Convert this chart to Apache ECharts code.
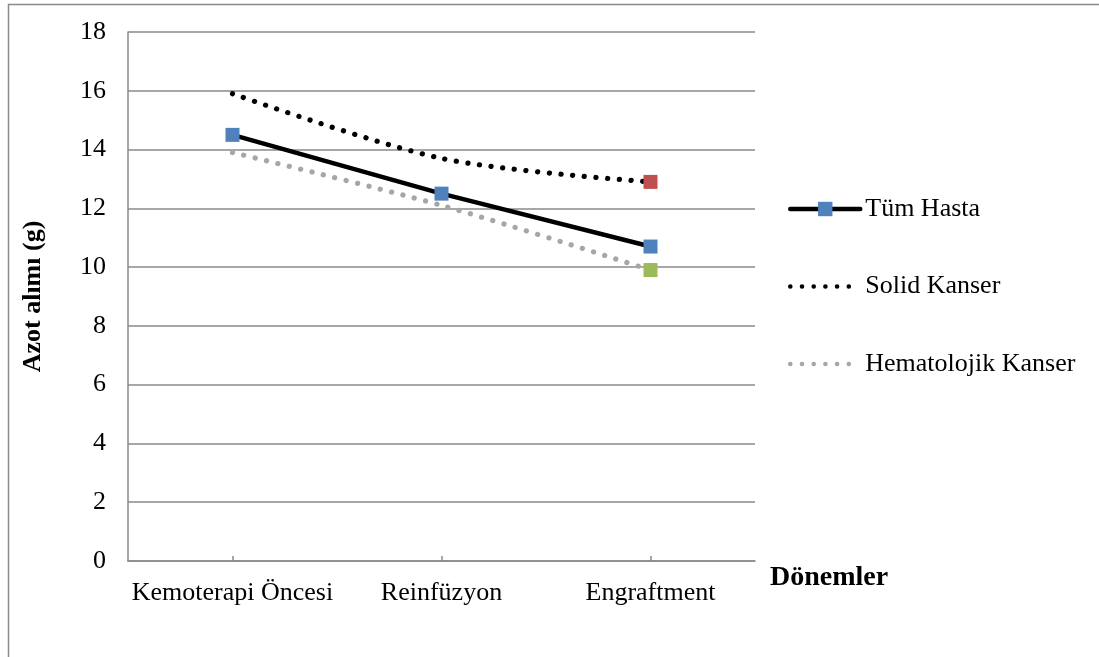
<!DOCTYPE html>
<html>
<head>
<meta charset="utf-8">
<script src="https://cdn.jsdelivr.net/npm/echarts@6/dist/echarts.min.js"></script>
<style>
  html, body { margin: 0; padding: 0; background: #fff; }
  #chart { width: 1099px; height: 657px; }
</style>
</head>
<body>
<div id="chart"></div>
<script>
// Periods on the x axis
const periods = ['Kemoterapi Öncesi', 'Reinfüzyon', 'Engraftment'];
// Nitrogen intake (g) per group
const tumHasta = [14.5, 12.5, 10.7];
const solidKanser = [15.9, 13.7, 12.9];
const hematolojikKanser = [13.9, 12.1, 9.9];
// Value axis range
const yMin = 0, yMax = 18, yStep = 2;

const serif = '"Liberation Serif", "Times New Roman", serif';
const gridGray = '#8a8a8a';
const dotted = [0.1, 11.6];

// Only the final point of the dotted series carries a marker
function lastMarked(values, color) {
  return values.map((v, i) => i === values.length - 1
    ? { value: v, symbol: 'rect', symbolSize: 14, itemStyle: { color: color } }
    : { value: v });
}

const chart = echarts.init(document.getElementById('chart'), null, { renderer: 'canvas' });
chart.setOption({
  animation: false,
  backgroundColor: '#fff',
  textStyle: { fontFamily: serif },
  graphic: [{
    type: 'rect', left: 6, top: 2, z: -1,
    shape: { width: 1100, height: 654 },
    style: { fill: 'none', stroke: gridGray, lineWidth: 1.5 }
  }],
  grid: { left: 128, right: 344, top: 32, bottom: 96 },
  legend: {
    orient: 'vertical', left: 788, top: 196, padding: 0,
    itemWidth: 70, itemHeight: 18, itemGap: 51.5,
    textStyle: { fontFamily: serif, fontSize: 26, color: '#000' },
    data: [
      { name: 'Tüm Hasta', lineStyle: { color: '#000', width: 4.5, cap: 'round' } },
      { name: 'Solid Kanser', itemStyle: { opacity: 0 },
        lineStyle: { color: '#000', width: 4.5, type: dotted, cap: 'round' } },
      { name: 'Hematolojik Kanser', itemStyle: { opacity: 0 },
        lineStyle: { color: '#A6A6A6', width: 4.5, type: dotted, cap: 'round' } }
    ]
  },
  xAxis: {
    type: 'category',
    data: periods,
    boundaryGap: true,
    name: 'Dönemler',
    nameLocation: 'end',
    nameGap: 15,
    nameTextStyle: { fontFamily: serif, fontWeight: 'bold', fontSize: 28, color: '#000', verticalAlign: 'top', padding: [3, 0, 0, 0] },
    axisLine: { lineStyle: { color: gridGray, width: 1.5 } },
    axisTick: { show: true, inside: true, alignWithLabel: true, length: 5, lineStyle: { color: gridGray, width: 1.5 } },
    axisLabel: { fontFamily: serif, fontSize: 26, color: '#000', margin: 19, interval: 0 },
    splitLine: { show: false }
  },
  yAxis: {
    type: 'value',
    min: yMin, max: yMax, interval: yStep,
    name: 'Azot alımı (g)',
    nameLocation: 'middle',
    nameGap: 82,
    nameTextStyle: { fontFamily: serif, fontWeight: 'bold', fontSize: 26, color: '#000' },
    axisLine: { show: true, lineStyle: { color: gridGray, width: 1.5 } },
    axisTick: { show: false },
    axisLabel: { fontFamily: serif, fontSize: 26, color: '#000', margin: 22 },
    splitLine: { show: true, lineStyle: { color: gridGray, width: 1.5 } }
  },
  series: [
    {
      name: 'Tüm Hasta', type: 'line', data: tumHasta,
      symbol: 'rect', symbolSize: 14,
      itemStyle: { color: '#4F81BD' },
      lineStyle: { color: '#000', width: 4.5 }
    },
    {
      name: 'Solid Kanser', type: 'line', data: lastMarked(solidKanser, '#C0504D'),
      symbol: 'none', smooth: 0.3,
      itemStyle: { color: '#C0504D' },
      lineStyle: { color: '#000', width: 5.2, type: dotted, cap: 'round' }
    },
    {
      name: 'Hematolojik Kanser', type: 'line', data: lastMarked(hematolojikKanser, '#9BBB59'),
      symbol: 'none', smooth: 0.3,
      itemStyle: { color: '#9BBB59' },
      lineStyle: { color: '#A6A6A6', width: 5.2, type: dotted, cap: 'round' }
    }
  ]
});
</script>
</body>
</html>
